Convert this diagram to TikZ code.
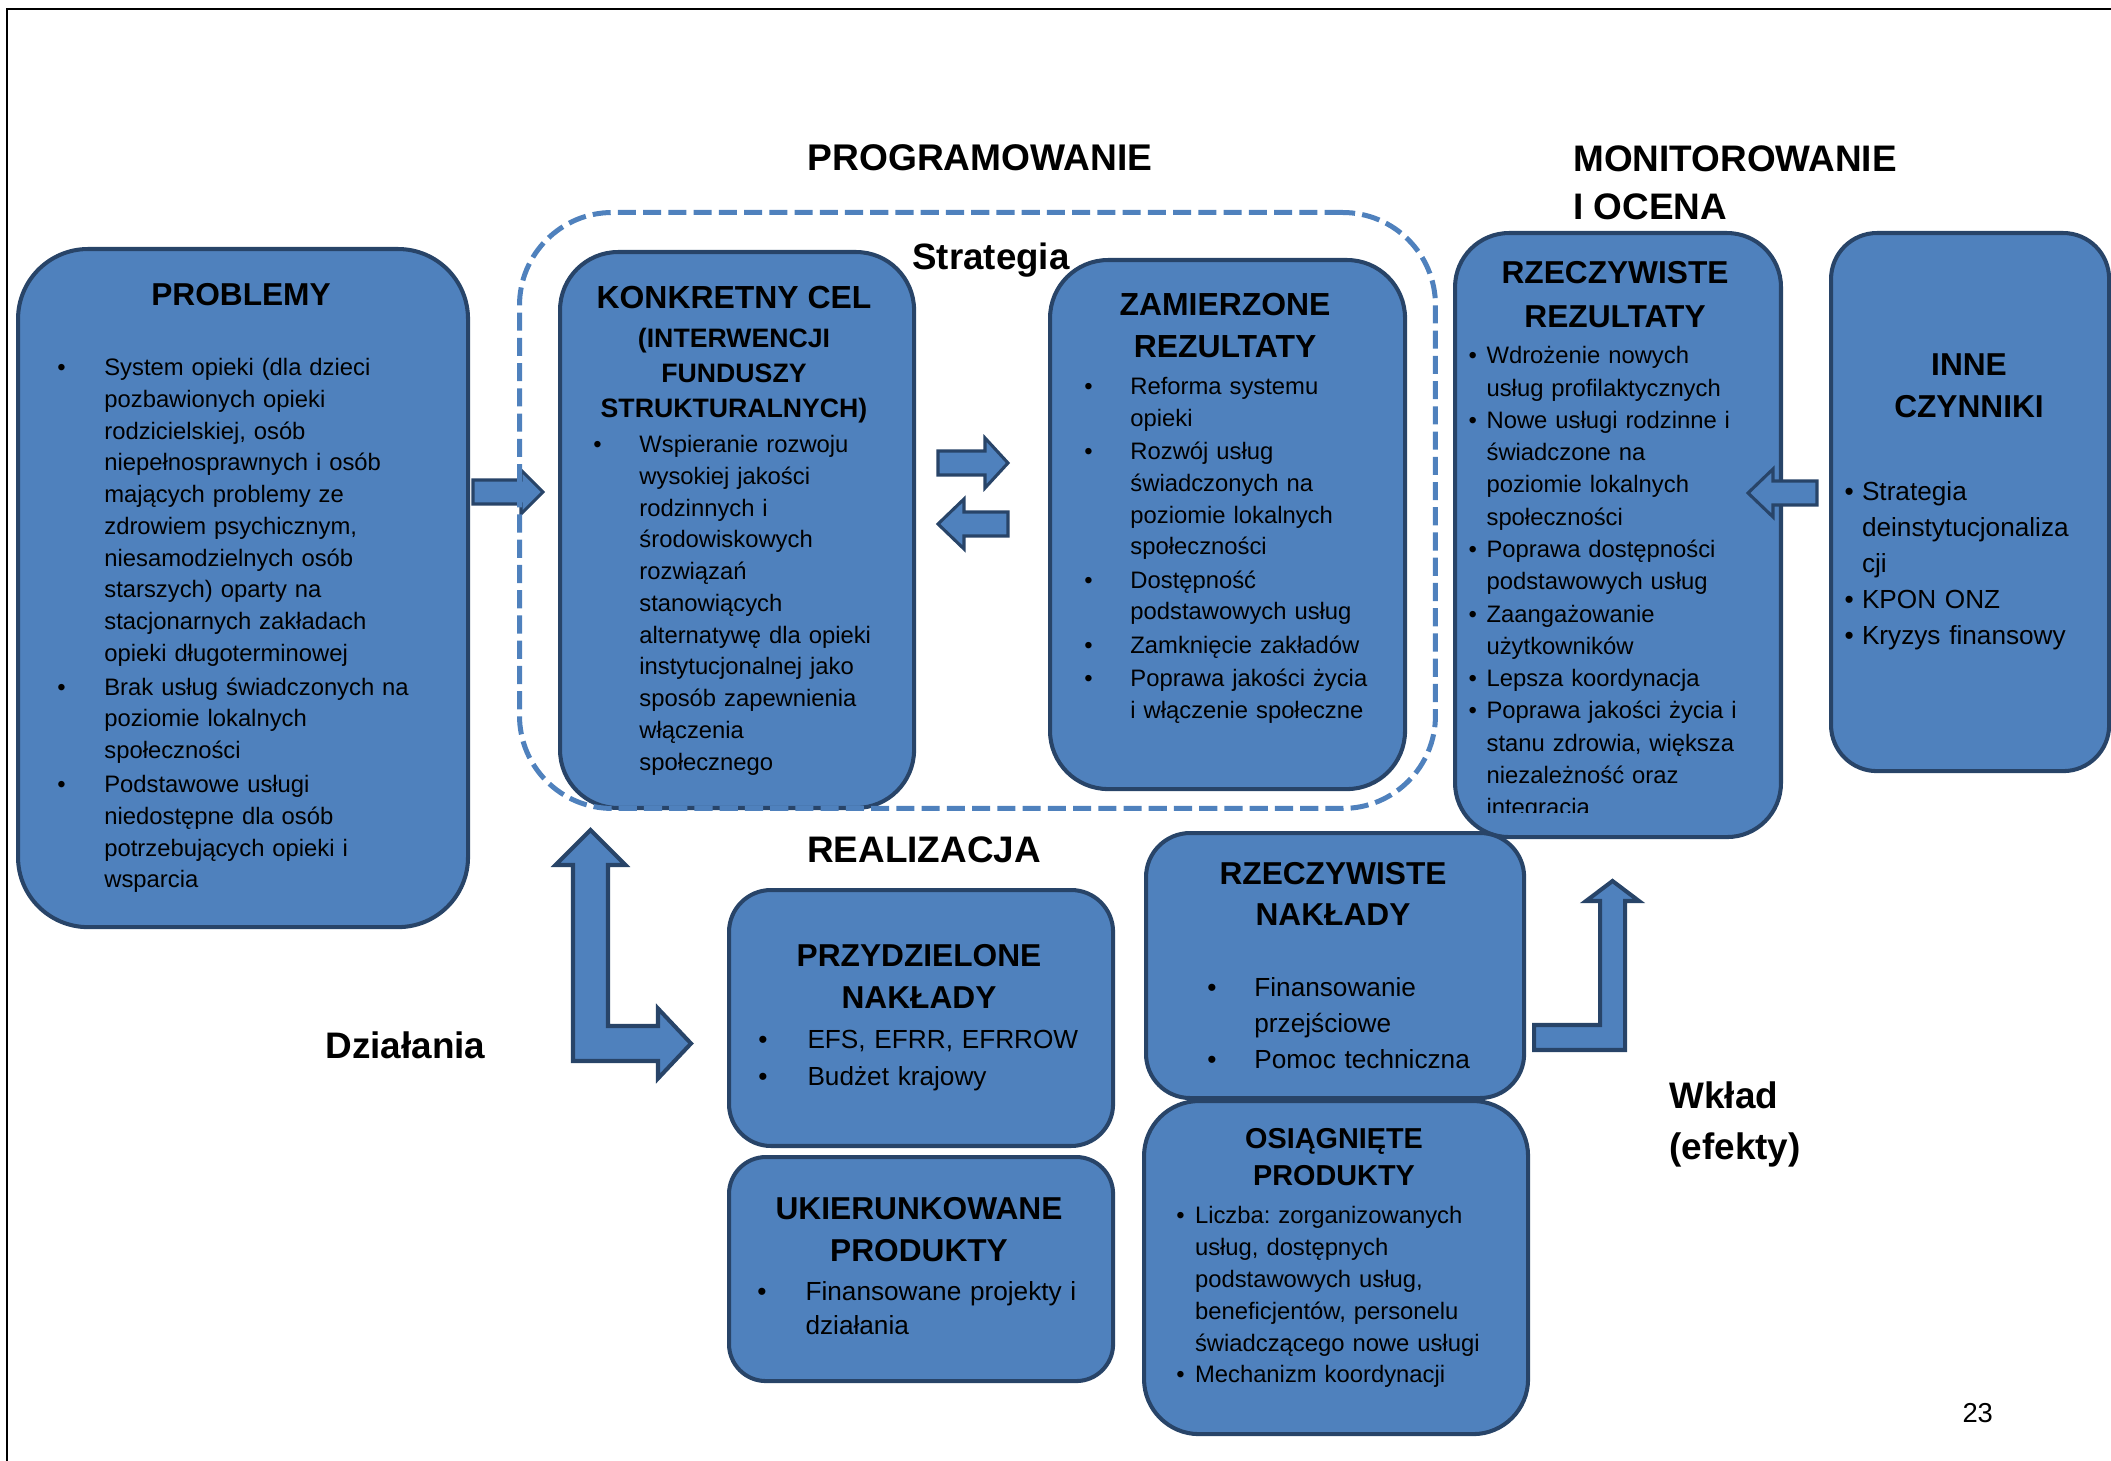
\documentclass[tikz,border=0pt]{standalone}
\usepackage{fontspec}
\setmainfont{Liberation Sans}
\usepackage{xcolor}
\definecolor{cfill}{RGB}{79,129,189}
\definecolor{cedge}{RGB}{40,68,104}
\definecolor{cdash}{RGB}{79,129,189}
\newcommand{\blt}[3][0pt]{\par\ifdim#1>0pt\vspace{#1}\fi\noindent\hangindent=#2\hangafter=1\hbox to #2{\textbullet\hfil}#3\par}
\tikzset{
	rbox/.style={draw=cedge, fill=cfill, line width=1.7pt, inner sep=0pt, anchor=north west},
	ttl/.style={align=center, inner sep=0pt, anchor=north, font=\bfseries\fontsize{13.3}{17.6}\selectfont},
	hdr/.style={inner sep=0pt, font=\bfseries\fontsize{15.5}{20.4}\selectfont},
	lst/.style={inner sep=0pt, anchor=north west},
	barrow/.style={draw=cedge, fill=cfill, line width=1.3pt, line join=miter}
}
\begin{document}
\frenchspacing
\begin{tikzpicture}[x=0.42pt, y=-0.42pt]
		\def\xleft{0}
		\def\xright{2111}
		\def\ytop{0}
		\def\ybot{1461}
		\draw[draw=none, use as bounding box] (\xleft, \ytop) rectangle (\xright, \ybot);

		% Frame
		\draw[line width=0.9pt] (\xright, 9) -- (7, 9) -- (7, \ybot);

		% Boxes
		\node[rbox, minimum width=189pt, minimum height=284.8pt, rounded corners=29.4pt] (problemy) at (16, 247) {};
		\node[rbox, minimum width=148.7pt, minimum height=233.5pt, rounded corners=24.4pt] (konkretny) at (558, 250) {};
		\node[rbox, minimum width=149.1pt, minimum height=222.2pt, rounded corners=24.4pt] (zamierzone) at (1048, 258) {};
		\node[rbox, minimum width=136.9pt, minimum height=253.7pt, rounded corners=22.7pt] (rrez) at (1453, 231) {};
		\node[rbox, minimum width=116.8pt, minimum height=226pt, rounded corners=19.3pt] (inne) at (1829, 231) {};
		\node[rbox, minimum width=161.3pt, minimum height=107.5pt, rounded corners=17.6pt] (przydzielone) at (727, 888) {};
		\node[rbox, minimum width=161.3pt, minimum height=94.1pt, rounded corners=15.5pt] (ukierunkowane) at (727, 1155) {};
		\node[rbox, minimum width=158.8pt, minimum height=111.3pt, rounded corners=18.5pt] (rnakl) at (1144, 831) {};
		\node[rbox, minimum width=161.3pt, minimum height=139.9pt, rounded corners=23.1pt] (osiag) at (1142, 1099) {};

		% Block arrows
		\draw[barrow] (473,480) -- (521,480) -- (521,470) -- (543,492) -- (521,514) -- (521,504) -- (473,504) -- cycle;
		\draw[barrow] (938,451) -- (985,451) -- (985,438) -- (1008,463) -- (985,488) -- (985,475) -- (938,475) -- cycle;
		\draw[barrow] (1008,512) -- (964,512) -- (964,499) -- (938,524) -- (964,549) -- (964,536) -- (1008,536) -- cycle;
		\draw[barrow] (1817,481) -- (1773,481) -- (1773,469) -- (1748,493) -- (1773,517) -- (1773,505) -- (1817,505) -- cycle;
		\draw[barrow, line width=1.7pt] (590.5,830) -- (625.5,865) -- (608,865) -- (608,1026) -- (658,1026) -- (658,1008.5) -- (691,1043.5) -- (658,1078.5) -- (658,1061) -- (573,1061) -- (573,865) -- (555.5,865) -- cycle;
		\draw[barrow, line width=1.7pt] (1534,1025) -- (1600,1025) -- (1600,901) -- (1586,901) -- (1612.5,881) -- (1639,901) -- (1625,901) -- (1625,1050) -- (1534,1050) -- cycle;

		% Strategy frame
		\node[anchor=north west, draw=cdash, line width=2.1pt, dash pattern=on 7.6pt off 3pt, rounded corners=39pt, minimum width=384.7pt, minimum height=250.3pt, inner sep=0pt] (strat) at (517, 210) {};

		% Headings
		\node[hdr, anchor=base, font=\bfseries\fontsize{15.6}{20.4}\selectfont] (prog) at (980, 171) {PROGRAMOWANIE};
		\node[hdr, anchor=north west, align=left] (monit) at (1573, 145) {MONITOROWANIE\\I OCENA};
		\node[hdr, anchor=base] (realiz) at (924, 862) {REALIZACJA};
		\node[hdr, anchor=base west, font=\bfseries\fontsize{15.4}{20}\selectfont] (strateg) at (912, 270) {Strategia};
		\node[hdr, anchor=base west] (dzial) at (325, 1058) {Działania};
		\node[hdr, anchor=north west, align=left, font=\bfseries\fontsize{15.5}{21.4}\selectfont] (wklad) at (1669, 1081) {Wkład\\(efekty)};
		\node[inner sep=0pt, anchor=base west, font=\fontsize{11.5}{14}\selectfont] (strona) at (1962, 1422) {23};

		% Titles
		\node[ttl, anchor=base] (problemyT) at (241, 306) {PROBLEMY};
		\node[ttl, anchor=base, font=\bfseries\fontsize{13.4}{17.6}\selectfont] (konkretnyT) at (734, 308.4) {KONKRETNY CEL};
		\node[ttl, font=\bfseries\fontsize{11.2}{14.7}\selectfont] (konkretnyS) at (734, 327.5) {(INTERWENCJI\\FUNDUSZY\\STRUKTURALNYCH)};
		\node[ttl, font=\bfseries\fontsize{13.4}{17.4}\selectfont] (zamierzoneT) at (1225, 293) {ZAMIERZONE\\REZULTATY};
		\node[ttl, font=\bfseries\fontsize{13.3}{18.5}\selectfont] (rrezT) at (1615, 260.7) {RZECZYWISTE\\REZULTATY};
		\node[ttl] (inneT) at (1969, 353.7) {INNE\\CZYNNIKI};
		\node[ttl] (przydzieloneT) at (919, 944.3) {PRZYDZIELONE\\NAKŁADY};
		\node[ttl] (ukierunkowaneT) at (919, 1196.7) {UKIERUNKOWANE\\PRODUKTY};
		\node[ttl, font=\bfseries\fontsize{13.3}{17.2}\selectfont] (rnaklT) at (1333, 861.7) {RZECZYWISTE\\NAKŁADY};
		\node[ttl, font=\bfseries\fontsize{12.1}{15.8}\selectfont] (osiagT) at (1334, 1127.7) {OSIĄGNIĘTE\\PRODUKTY};

		% Lists
		\node[lst, text width=168pt, font=\fontsize{10}{13.33}\selectfont] (problemyL) at (57, 343.5)
			{
				\blt{19.7pt}{System opieki (dla dzieci\newline pozbawionych opieki\newline rodzicielskiej, osób\newline niepełnosprawnych i osób\newline mających problemy ze\newline zdrowiem psychicznym,\newline niesamodzielnych osób\newline starszych) oparty na\newline stacjonarnych zakładach\newline opieki długoterminowej}
				\blt[0.9pt]{19.7pt}{Brak usług świadczonych na\newline poziomie lokalnych\newline społeczności}
				\blt[0.9pt]{19.7pt}{Podstawowe usługi\newline niedostępne dla osób\newline potrzebujących opieki i\newline wsparcia}
			};
		\node[lst, text width=130pt, font=\fontsize{10}{13.33}\selectfont] (konkretnyL) at (593, 420.5)
			{
				\blt{19.3pt}{Wspieranie rozwoju\newline wysokiej jakości\newline rodzinnych i\newline środowiskowych\newline rozwiązań\newline stanowiących\newline alternatywę dla opieki\newline instytucjonalnej jako\newline sposób zapewnienia\newline włączenia\newline społecznego}
			};
		\node[lst, text width=138.6pt, font=\fontsize{10}{13.33}\selectfont] (zamierzoneL) at (1084, 362.5)
			{
				\blt{19.3pt}{Reforma systemu\newline opieki}
				\blt[0.65pt]{19.3pt}{Rozwój usług\newline świadczonych na\newline poziomie lokalnych\newline społeczności}
				\blt[0.65pt]{19.3pt}{Dostępność\newline podstawowych usług}
				\blt[0.65pt]{19.3pt}{Zamknięcie zakładów}
				\blt[0.65pt]{19.3pt}{Poprawa jakości życia\newline i włączenie społeczne}
			};
		\begin{scope}
			\clip (rrez.north west) rectangle ([yshift=11.3pt]rrez.south east);
			\node[lst, text width=130pt, font=\fontsize{10}{13.56}\selectfont] (rrezL) at (1468, 331)
				{
					\blt{7.6pt}{Wdrożenie nowych\newline usług profilaktycznych}
					\blt{7.6pt}{Nowe usługi rodzinne i\newline świadczone na\newline poziomie lokalnych\newline społeczności}
					\blt{7.6pt}{Poprawa dostępności\newline podstawowych usług}
					\blt{7.6pt}{Zaangażowanie\newline użytkowników}
					\blt{7.6pt}{Lepsza koordynacja}
					\blt{7.6pt}{Poprawa jakości życia i\newline stanu zdrowia, większa\newline niezależność oraz\newline integracja}
				};
		\end{scope}
		\node[lst, text width=107pt, font=\fontsize{11}{15.1}\selectfont] (inneL) at (1844, 464.5)
			{
				\blt{7.35pt}{Strategia\newline deinstytucjonaliza\newline cji}
				\blt{7.35pt}{KPON ONZ}
				\blt{7.35pt}{Kryzys finansowy}
			};
		\node[lst, text width=147pt, font=\fontsize{11}{15.5}\selectfont] (przydzieloneL) at (758, 1011.5)
			{
				\blt{20.6pt}{EFS, EFRR, EFRROW}
				\blt{20.6pt}{Budżet krajowy}
			};
		\node[lst, text width=147pt, font=\fontsize{11}{14.5}\selectfont] (ukierunkowaneL) at (757, 1265)
			{
				\blt{20.2pt}{Finansowane projekty i\newline działania}
			};
		\node[lst, text width=126pt, font=\fontsize{11}{15.1}\selectfont] (rnaklL) at (1207, 960)
			{
				\blt{19.7pt}{Finansowanie\newline przejściowe}
				\blt{19.7pt}{Pomoc techniczna}
			};
		\node[lst, text width=143pt, font=\fontsize{10}{13.4}\selectfont] (osiagL) at (1176, 1191)
			{
				\blt{7.8pt}{Liczba: zorganizowanych\newline usług, dostępnych\newline podstawowych usług,\newline beneficjentów, personelu\newline świadczącego nowe usługi}
				\blt{7.8pt}{Mechanizm koordynacji}
			};
	\end{tikzpicture}
\end{document}
